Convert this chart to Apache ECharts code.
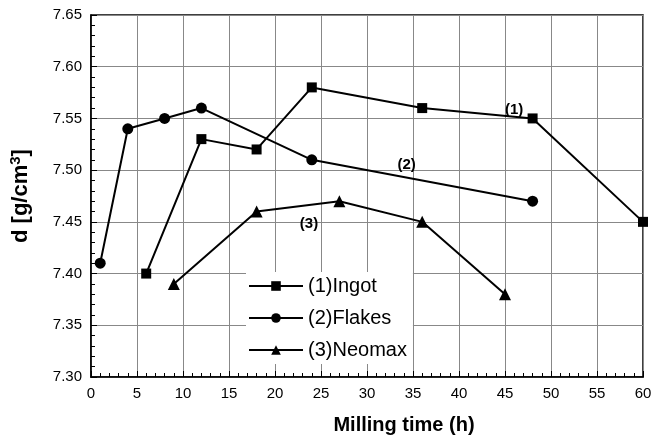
<!DOCTYPE html>
<html><head><meta charset="utf-8">
<script src="https://cdn.jsdelivr.net/npm/echarts@6/dist/echarts.min.js"></script>
<style>html,body{margin:0;padding:0;background:#fff}#c{width:661px;height:447px}</style>
</head><body><div id="c"></div>
<script>
const seriesNames = ['(1)Ingot', '(2)Flakes', '(3)Neomax'];
const ingotX = [6, 12, 18, 24, 36, 48, 60];
const ingotY = [7.40, 7.53, 7.52, 7.58, 7.56, 7.55, 7.45];
const flakesX = [1, 4, 8, 12, 24, 48];
const flakesY = [7.41, 7.54, 7.55, 7.56, 7.51, 7.47];
const neomaxX = [9, 18, 27, 36, 45];
const neomaxY = [7.39, 7.46, 7.47, 7.45, 7.38];
const annotationText = ['(1)', '(2)', '(3)'];
const annotationX = [46, 34.3, 23.7];
const annotationY = [7.558, 7.505, 7.448];

const pairs = (xs, ys) => xs.map((x, i) => [x, ys[i]]);
const font = 'Liberation Sans, Arial, sans-serif';
const chart = echarts.init(document.getElementById('c'));
const symbols = ['rect', 'circle', 'triangle'];
const sizes = [10, 11, 12];
const datas = [pairs(ingotX, ingotY), pairs(flakesX, flakesY), pairs(neomaxX, neomaxY)];
const series = datas.map((d, i) => ({
  name: seriesNames[i], type: 'line', data: d, symbol: symbols[i], symbolSize: sizes[i],
  lineStyle: { color: '#000', width: 2 }, itemStyle: { color: '#000' }, z: 5,
  markPoint: {
    symbol: 'circle', symbolSize: 0,
    data: [{ coord: [annotationX[i], annotationY[i]], value: annotationText[i] }],
    label: { show: true, position: 'inside', formatter: annotationText[i], color: '#000',
      fontFamily: font, fontWeight: 'bold', fontSize: 15 }
  }
}));
chart.setOption({
  animation: false,
  backgroundColor: '#fff',
  grid: { left: 91, right: 18, top: 15, bottom: 70, show: true, borderColor: '#000', borderWidth: 1.5 },
  legend: {
    data: seriesNames, orient: 'vertical', left: 246, top: 272,
    itemWidth: 54, itemHeight: 12, itemGap: 12, backgroundColor: '#fff', padding: [4, 6, 4, 2],
    textStyle: { fontFamily: font, fontSize: 20, color: '#000' }
  },
  xAxis: {
    type: 'value', min: 0, max: 60, interval: 5,
    name: 'Milling time (h)', nameLocation: 'middle', nameGap: 38,
    nameTextStyle: { fontFamily: font, fontWeight: 'bold', fontSize: 20, color: '#000', padding: [0, 0, 0, 74] },
    axisLine: { lineStyle: { color: '#000', width: 1.5 } },
    axisTick: { inside: true, length: 6, lineStyle: { color: '#000' } },
    minorTick: { show: true, splitNumber: 5, length: 4, lineStyle: { color: '#000' } },
    axisLabel: { fontFamily: font, fontSize: 15, color: '#000', margin: 9 },
    splitLine: { show: true, lineStyle: { color: '#888', width: 1 } }
  },
  yAxis: {
    type: 'value', min: 7.30, max: 7.65, interval: 0.05,
    name: 'd [g/cm{sup|3}]', nameLocation: 'middle', nameGap: 58,
    nameTextStyle: { fontFamily: font, fontWeight: 'bold', fontSize: 22, color: '#000',
      rich: { sup: { fontFamily: font, fontWeight: 'bold', fontSize: 15, color: '#000', verticalAlign: 'top', padding: [0, 0, 10, 0] } } },
    axisLine: { lineStyle: { color: '#000', width: 1.5 } },
    axisTick: { inside: true, length: 6, lineStyle: { color: '#000' } },
    minorTick: { show: true, splitNumber: 5, length: 4, lineStyle: { color: '#000' } },
    axisLabel: { fontFamily: font, fontSize: 15, color: '#000', margin: 9, formatter: v => v.toFixed(2) },
    splitLine: { show: true, lineStyle: { color: '#888', width: 1 } }
  },
  series: series
});
</script></body></html>
